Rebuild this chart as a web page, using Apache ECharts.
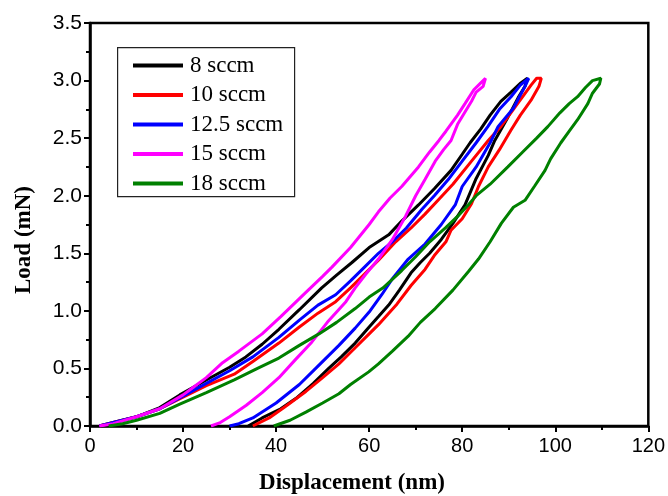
<!DOCTYPE html>
<html>
<head>
<meta charset="utf-8">
<script src="https://cdn.jsdelivr.net/npm/echarts@6/dist/echarts.min.js"></script>
<style>html,body{margin:0;padding:0;background:#fff}#c{width:668px;height:496px}</style>
</head>
<body>
<div id="c"></div>
<script>
// ---- data (displacement nm, load mN) ----
const seriesNames = ['8 sccm', '10 sccm', '12.5 sccm', '15 sccm', '18 sccm'];
const seriesColors = ['#000000', '#ff0000', '#0000ff', '#ff00ff', '#008000'];
const xTicks = [0, 20, 40, 60, 80, 100, 120];
const yTicks = [0.0, 0.5, 1.0, 1.5, 2.0, 2.5, 3.0, 3.5];

const load8 = [[2,0],[5,0.03],[10,0.08],[15,0.16],[19.3,0.27],[25,0.4],[30,0.51],[33.5,0.6],[37,0.71],[40.6,0.84],[45,1.01],[49.8,1.2],[53,1.31],[56.3,1.42],[60,1.55],[64.2,1.66],[67,1.78],[70.6,1.92],[74,2.06],[77.6,2.22],[80,2.36],[81.7,2.46],[84,2.58],[86,2.7],[88.3,2.82],[90.5,2.9],[92.6,2.98],[94,3.02]];
const unload8 = [[94,3.02],[93.5,2.95],[92,2.85],[89.8,2.68],[87,2.48],[85.6,2.35],[83,2.15],[80.6,1.92],[78,1.76],[75.5,1.62],[73,1.5],[71,1.42],[69,1.33],[66.5,1.18],[64.2,1.05],[62,0.95],[60,0.86],[57,0.72],[54,0.6],[51.3,0.5],[48,0.37],[44.3,0.24],[41,0.15],[37,0.07],[34,0]];

const load10 = [[2,0],[5,0.03],[10,0.08],[15,0.15],[20,0.25],[25,0.35],[31,0.45],[35,0.56],[40.6,0.72],[45,0.86],[49,0.98],[52.8,1.08],[56,1.2],[59,1.32],[62,1.44],[65.7,1.6],[69,1.72],[72,1.84],[75,1.97],[78,2.1],[82,2.3],[85.6,2.48],[88.3,2.6],[91,2.75],[93,2.86],[94.8,2.96],[96,3.02],[97,3.02]];
const unload10 = [[97,3.02],[96.5,2.95],[94.8,2.83],[92.5,2.7],[90.5,2.57],[88,2.4],[85.6,2.25],[83.5,2.08],[82,1.93],[80,1.8],[77.6,1.7],[76.5,1.6],[74,1.48],[72,1.36],[69,1.22],[66,1.06],[62,0.88],[60,0.8],[57,0.68],[53.5,0.54],[50,0.42],[46.4,0.3],[42,0.17],[38.5,0.07],[35,0]];

const load125 = [[2,0],[5,0.03],[10,0.08],[15,0.15],[20,0.26],[25,0.37],[30,0.48],[35,0.6],[40.6,0.77],[45,0.92],[49,1.05],[52.8,1.14],[56,1.26],[59,1.38],[62,1.5],[65,1.6],[68,1.72],[71.3,1.88],[74,2.0],[77,2.14],[80,2.3],[83,2.46],[85.5,2.6],[88,2.75],[90.5,2.86],[92.5,2.96],[94.3,3.02]];
const unload125 = [[94.3,3.02],[93.5,2.95],[91,2.76],[87.7,2.6],[86,2.46],[83,2.25],[80,2.08],[78.5,1.92],[75.5,1.75],[72,1.58],[68.4,1.45],[65,1.28],[62.7,1.14],[60,0.99],[57,0.85],[53.5,0.7],[49,0.52],[45,0.36],[40,0.2],[35,0.07],[32,0.02],[30,0]];

const load15 = [[2,0],[5,0.02],[10,0.08],[15,0.15],[20,0.27],[22,0.33],[25,0.42],[28.5,0.55],[32,0.65],[37,0.8],[41,0.95],[46.4,1.16],[50,1.3],[52,1.38],[56,1.55],[60,1.75],[62,1.86],[64.5,1.98],[67,2.08],[70.6,2.25],[73,2.38],[75,2.48],[76.5,2.56],[79,2.7],[80.6,2.8],[82.5,2.92],[84,2.98],[85,3.02]];
const unload15 = [[85,3.02],[84.5,2.95],[83,2.9],[82,2.82],[80.5,2.72],[79,2.62],[77.6,2.48],[76,2.4],[74.2,2.3],[72,2.14],[70,2.0],[67.8,1.82],[65,1.62],[62,1.45],[59.3,1.32],[57,1.2],[55,1.08],[51,0.9],[47.7,0.73],[44,0.57],[40.6,0.42],[37,0.29],[33.6,0.18],[30,0.08],[28,0.03],[26,0]];

const load18 = [[4,0],[7,0.02],[10,0.05],[15,0.11],[19.3,0.19],[25,0.29],[31,0.4],[36,0.5],[40.6,0.59],[45,0.7],[49.2,0.8],[53,0.9],[57,1.02],[60,1.12],[63,1.2],[67,1.35],[70,1.47],[73,1.6],[76.4,1.72],[79,1.82],[81.3,1.92],[83,2.0],[86,2.1],[89.8,2.25],[93,2.38],[96,2.5],[98.4,2.6],[101,2.72],[103,2.8],[104.8,2.86],[106.5,2.94],[108,3.0],[109.8,3.02]];
const unload18 = [[110,3.02],[109.5,2.97],[108,2.89],[107,2.8],[104.8,2.66],[103,2.56],[101.2,2.46],[99,2.32],[97.8,2.22],[95.5,2.08],[93.5,1.96],[91,1.9],[88.4,1.76],[86,1.6],[83.5,1.45],[81.3,1.34],[78,1.18],[74.2,1.02],[71,0.9],[68.4,0.78],[65,0.65],[62,0.54],[59.9,0.47],[56,0.36],[53.5,0.28],[50,0.2],[46.4,0.12],[43,0.05],[39.5,0]];

const curves = [load8.concat(unload8), load10.concat(unload10), load125.concat(unload125), load15.concat(unload15), load18.concat(unload18)];

const chart = echarts.init(document.getElementById('c'), null, {renderer: 'canvas'});
const tickFont = 'Liberation Sans, Arial, sans-serif';
const serif = 'Liberation Serif, Times New Roman, serif';

const option = {
  animation: false,
  backgroundColor: '#fff',
  grid: {left: 90, right: 17, top: 23, bottom: 70, show: true, borderColor: '#000', borderWidth: 2.5, backgroundColor: 'transparent', containLabel: false},
  legend: {
    orient: 'vertical', left: 133, top: 54, padding: 0, itemGap: 6.5,
    itemWidth: 50, itemHeight: 4, icon: 'rect',
    data: seriesNames,
    textStyle: {fontFamily: serif, fontSize: 23, color: '#000', padding: [0, 0, 0, 2]}
  },
  xAxis: {
    type: 'value', min: xTicks[0], max: xTicks[xTicks.length - 1], interval: 20,
    axisLine: {show: true, lineStyle: {color: '#000', width: 2.5}},
    axisTick: {show: true, inside: false, length: 6, lineStyle: {color: '#000', width: 2}},
    minorTick: {show: true, splitNumber: 2, length: 4, lineStyle: {color: '#000', width: 2}},
    splitLine: {show: false},
    axisLabel: {fontFamily: tickFont, fontSize: 20, color: '#000', margin: 10}
  },
  yAxis: {
    type: 'value', min: yTicks[0], max: yTicks[yTicks.length - 1], interval: 0.5,
    axisLine: {show: true, lineStyle: {color: '#000', width: 2.5}},
    axisTick: {show: true, inside: false, length: 6, lineStyle: {color: '#000', width: 2}},
    minorTick: {show: true, splitNumber: 2, length: 4, lineStyle: {color: '#000', width: 2}},
    splitLine: {show: false},
    axisLabel: {fontFamily: tickFont, fontSize: 21, color: '#000', margin: 8, formatter: v => v.toFixed(1)}
  },
  graphic: [
    {type: 'rect', left: 117, top: 47, shape: {width: 177, height: 149}, style: {fill: 'transparent', stroke: '#222', lineWidth: 1.2}, z: 100},
    {type: 'text', x: 352, y: 483, style: {text: 'Displacement (nm)', fontFamily: serif, fontWeight: 'bold', fontSize: 23, fill: '#000', textAlign: 'center', textVerticalAlign: 'middle'}},
    {type: 'text', rotation: Math.PI / 2, x: 24, y: 240, style: {text: 'Load (mN)', fontFamily: serif, fontWeight: 'bold', fontSize: 23, fill: '#000', textAlign: 'center', textVerticalAlign: 'middle'}}
  ],
  series: seriesNames.map((n, i) => ({
    name: n, type: 'line', data: curves[i], showSymbol: false, symbol: 'none',
    lineStyle: {color: seriesColors[i], width: 3}, itemStyle: {color: seriesColors[i]},
    clip: true, z: 2
  }))
};
chart.setOption(option);
</script>
</body>
</html>
